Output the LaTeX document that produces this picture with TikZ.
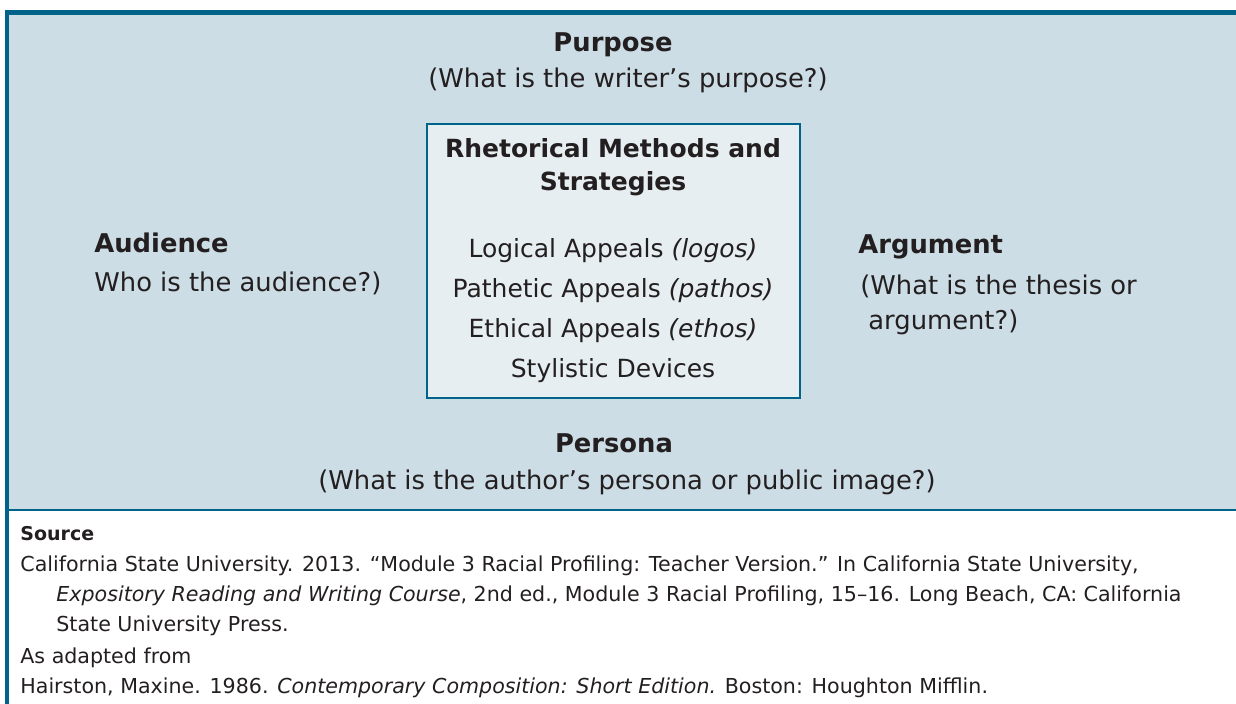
\documentclass[tikz,border=0pt]{standalone}
\usepackage{fontspec}
\setmainfont{DejaVu Sans}
\definecolor{frame}{RGB}{0,99,138}
\definecolor{panel}{RGB}{204,221,229}
\definecolor{inner}{RGB}{230,238,242}
\definecolor{ink}{RGB}{35,31,32}
\tikzset{
  head/.style={font=\fontsize{12.9}{15}\selectfont\bfseries, text=ink, anchor=base, inner sep=0pt},
  body/.style={font=\fontsize{12.9}{15}\selectfont, text=ink, anchor=base, inner sep=0pt},
  boxhead/.style={head, font=\fontsize{12.5}{15}\selectfont\bfseries},
  boxbody/.style={body, font=\fontsize{12.5}{15}\selectfont},
  src/.style={font=\fontsize{10.3}{12}\selectfont, text=ink, anchor=base west, inner sep=0pt},
  methodbox/.style={draw=frame, fill=inner, line width=1pt, minimum width=186.5pt, minimum height=137pt},
}
\begin{document}
\begin{tikzpicture}[x=0.5pt,y=-0.5pt]
  \useasboundingbox (0,0) rectangle (1236,704);
  \fill[panel] (7,12) rectangle (1236,510);
  \draw[frame, line width=1pt] (7,510) -- (1236,510);
  \draw[frame, line width=2.5pt] (4.5,12.5) -- (1236,12.5);
  \draw[frame, line width=2pt] (7,10) -- (7,704);

  \node[methodbox] (methods) at (613.5,261.5) {};

  \node[head] (purpose) at (613,52) {Purpose};
  \node[body] (purposeq) at (628,88) {(What is the writer’s purpose?)};

  \node[boxhead] (rhet1) at (613,158) {Rhetorical Methods and};
  \node[boxhead] (rhet2) at (613,191) {Strategies};
  \foreach[count=\i] \kind/\greek in {Logical/logos, Pathetic/pathos, Ethical/ethos}
    \node[boxbody] (appeal\i) at (613, 218+40*\i) {\kind\ Appeals \textit{(\greek)}};
  \node[boxbody] (appeal4) at (613,378) {Stylistic Devices};

  \node[head, anchor=base west] (audience) at (94,253) {Audience};
  \node[body, anchor=base west] (audienceq) at (94,292) {Who is the audience?)};

  \node[head, anchor=base west] (argument) at (858,254) {Argument};
  \node[body, anchor=base west] (argumentq1) at (860,295) {(What is the thesis or};
  \node[body, anchor=base west] (argumentq2) at (868,330) {argument?)};

  \node[head] (persona) at (614,453) {Persona};
  \node[body] (personaq) at (627,490) {(What is the author’s persona or public image?)};

  \node[src, font=\fontsize{9.5}{12}\selectfont\bfseries] (source) at (20,541) {Source};
  \node[src] (src1) at (20,572) {California State University. 2013. “Module 3 Racial Profiling: Teacher Version.” In California State University,};
  \node[src] (src2) at (56,602) {\textit{Expository Reading and Writing Course}, 2nd ed., Module 3 Racial Profiling, 15–16. Long Beach, CA: California};
  \node[src] (src3) at (56,632) {State University Press.};
  \node[src] (src4) at (20,663) {As adapted from};
  \node[src] (src5) at (20,693) {Hairston, Maxine. 1986. \textit{Contemporary Composition: Short Edition.} Boston: Houghton Mifflin.};
\end{tikzpicture}
\end{document}
